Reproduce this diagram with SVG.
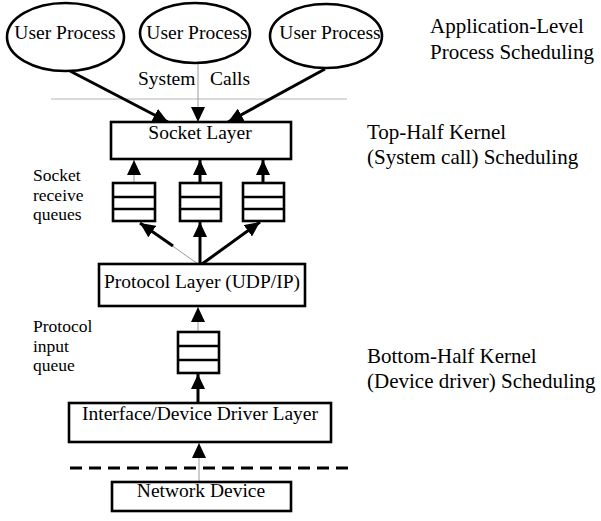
<svg xmlns="http://www.w3.org/2000/svg" width="601" height="521" viewBox="0 0 601 521">
  <style>
    text { font-family: "Liberation Serif", "Times New Roman", serif; fill: #000; }
    .lbl { font-size: 19.5px; }
    .note { font-size: 17.5px; }
    .side { font-size: 21px; }
    .box { fill: #fff; stroke: #000; stroke-width: 2.6; }
    .proc { fill: #fff; stroke: #000; stroke-width: 2.6; }
    .q { fill: #fff; stroke: #000; stroke-width: 2.6; }
    .qdiv { stroke: #000; stroke-width: 2.6; }
    .thick { stroke: #000; stroke-width: 3; fill: none; }
    .thin { stroke: #9a9a9a; stroke-width: 1; fill: none; }
    .rule { stroke: #b4b4b4; stroke-width: 1; }
    .dash { stroke: #000; stroke-width: 3; stroke-dasharray: 12 7; }
  </style>
  <defs>
    <marker id="ah" viewBox="0 0 15 14" markerWidth="15" markerHeight="14" refX="15" refY="7" orient="auto" markerUnits="userSpaceOnUse">
      <path d="M0,0 L15,7 L0,14 z" fill="#000"/>
    </marker>
  </defs>

  <rect width="601" height="521" fill="#fff"/>

  <!-- boundary lines -->
  <line class="rule" x1="51" y1="99" x2="347" y2="99"/>
  <line class="dash" x1="70" y1="468" x2="348" y2="468"/>

  <!-- connectors -->
  <g id="connectors">
    <path class="thick" d="M70,71 L168,122" marker-end="url(#ah)"/>
    <path class="thin" d="M198,63 L198,122" marker-end="url(#ah)"/>
    <path class="thick" d="M325,69 L228,122" marker-end="url(#ah)"/>

    <path class="thin" d="M134,192 L134,160" marker-end="url(#ah)"/>
    <path class="thick" d="M200,191 L200,160" marker-end="url(#ah)"/>
    <path class="thick" d="M263,191 L263,160" marker-end="url(#ah)"/>

    <path class="thin" d="M198,264 L140,223"/>
    <path class="thick" d="M173,246 L140,223" marker-end="url(#ah)"/>
    <path class="thick" d="M200,264 L200,222" marker-end="url(#ah)"/>
    <path class="thick" d="M202,264 L260,222" marker-end="url(#ah)"/>

    <path class="thin" d="M198,338 L198,307" marker-end="url(#ah)"/>
    <path class="thick" d="M198,403 L198,374" marker-end="url(#ah)"/>
    <path class="thin" d="M199,482 L199,443" marker-end="url(#ah)"/>
  </g>

  <!-- user processes -->
  <g id="user-process-1">
    <ellipse class="proc" cx="65.5" cy="37" rx="58.5" ry="34"/>
    <text class="lbl" x="65" y="39" text-anchor="middle">User Process</text>
  </g>
  <g id="user-process-2">
    <ellipse class="proc" cx="195" cy="33" rx="55" ry="30"/>
    <text class="lbl" x="197" y="39" text-anchor="middle">User Process</text>
  </g>
  <g id="user-process-3">
    <ellipse class="proc" cx="326" cy="36" rx="56" ry="32"/>
    <text class="lbl" x="330" y="39" text-anchor="middle">User Process</text>
  </g>

  <g id="system-calls">
    <text class="lbl" x="138" y="85">System</text>
    <text class="lbl" x="210" y="85">Calls</text>
  </g>

  <!-- socket layer -->
  <g id="socket-layer">
    <rect class="box" x="111" y="122" width="180" height="37"/>
    <text class="lbl" x="200" y="139" text-anchor="middle">Socket Layer</text>
  </g>

  <!-- socket receive queues -->
  <g id="socket-queue-1">
    <rect class="q" x="113" y="183" width="42" height="38"/>
    <line class="qdiv" x1="113" y1="197" x2="155" y2="197"/>
    <line class="qdiv" x1="113" y1="209" x2="155" y2="209"/>
  </g>
  <g id="socket-queue-2">
    <rect class="q" x="180" y="183" width="41" height="38"/>
    <line class="qdiv" x1="180" y1="197" x2="221" y2="197"/>
    <line class="qdiv" x1="180" y1="209" x2="221" y2="209"/>
  </g>
  <g id="socket-queue-3">
    <rect class="q" x="243" y="183" width="41" height="38"/>
    <line class="qdiv" x1="243" y1="197" x2="284" y2="197"/>
    <line class="qdiv" x1="243" y1="209" x2="284" y2="209"/>
  </g>
  <g id="socket-queues-label">
    <text class="note" x="33" y="181">Socket</text>
    <text class="note" x="33" y="200.5">receive</text>
    <text class="note" x="33" y="220">queues</text>
  </g>

  <!-- protocol layer -->
  <g id="protocol-layer">
    <rect class="box" x="99" y="264" width="206" height="42"/>
    <text class="lbl" x="202" y="288" text-anchor="middle">Protocol Layer (UDP/IP)</text>
  </g>

  <!-- protocol input queue -->
  <g id="protocol-queue">
    <rect class="q" x="178" y="332" width="41" height="41"/>
    <line class="qdiv" x1="178" y1="346" x2="219" y2="346"/>
    <line class="qdiv" x1="178" y1="360" x2="219" y2="360"/>
  </g>
  <g id="protocol-queue-label">
    <text class="note" x="33" y="332">Protocol</text>
    <text class="note" x="33" y="351.5">input</text>
    <text class="note" x="33" y="371">queue</text>
  </g>

  <!-- interface / device driver layer -->
  <g id="driver-layer">
    <rect class="box" x="69" y="403" width="262" height="39"/>
    <text class="lbl" x="200" y="420" text-anchor="middle">Interface/Device Driver Layer</text>
  </g>

  <!-- network device -->
  <g id="network-device">
    <rect class="box" x="112" y="482" width="179" height="29"/>
    <text class="lbl" x="201" y="497" text-anchor="middle">Network Device</text>
  </g>

  <!-- scheduling levels -->
  <g id="level-application">
    <text class="side" x="430" y="33">Application-Level</text>
    <text class="side" x="430" y="59">Process Scheduling</text>
  </g>
  <g id="level-top-half">
    <text class="side" x="367" y="139">Top-Half Kernel</text>
    <text class="side" x="367" y="164">(System call) Scheduling</text>
  </g>
  <g id="level-bottom-half">
    <text class="side" x="367" y="363">Bottom-Half Kernel</text>
    <text class="side" x="367" y="388">(Device driver) Scheduling</text>
  </g>
</svg>
